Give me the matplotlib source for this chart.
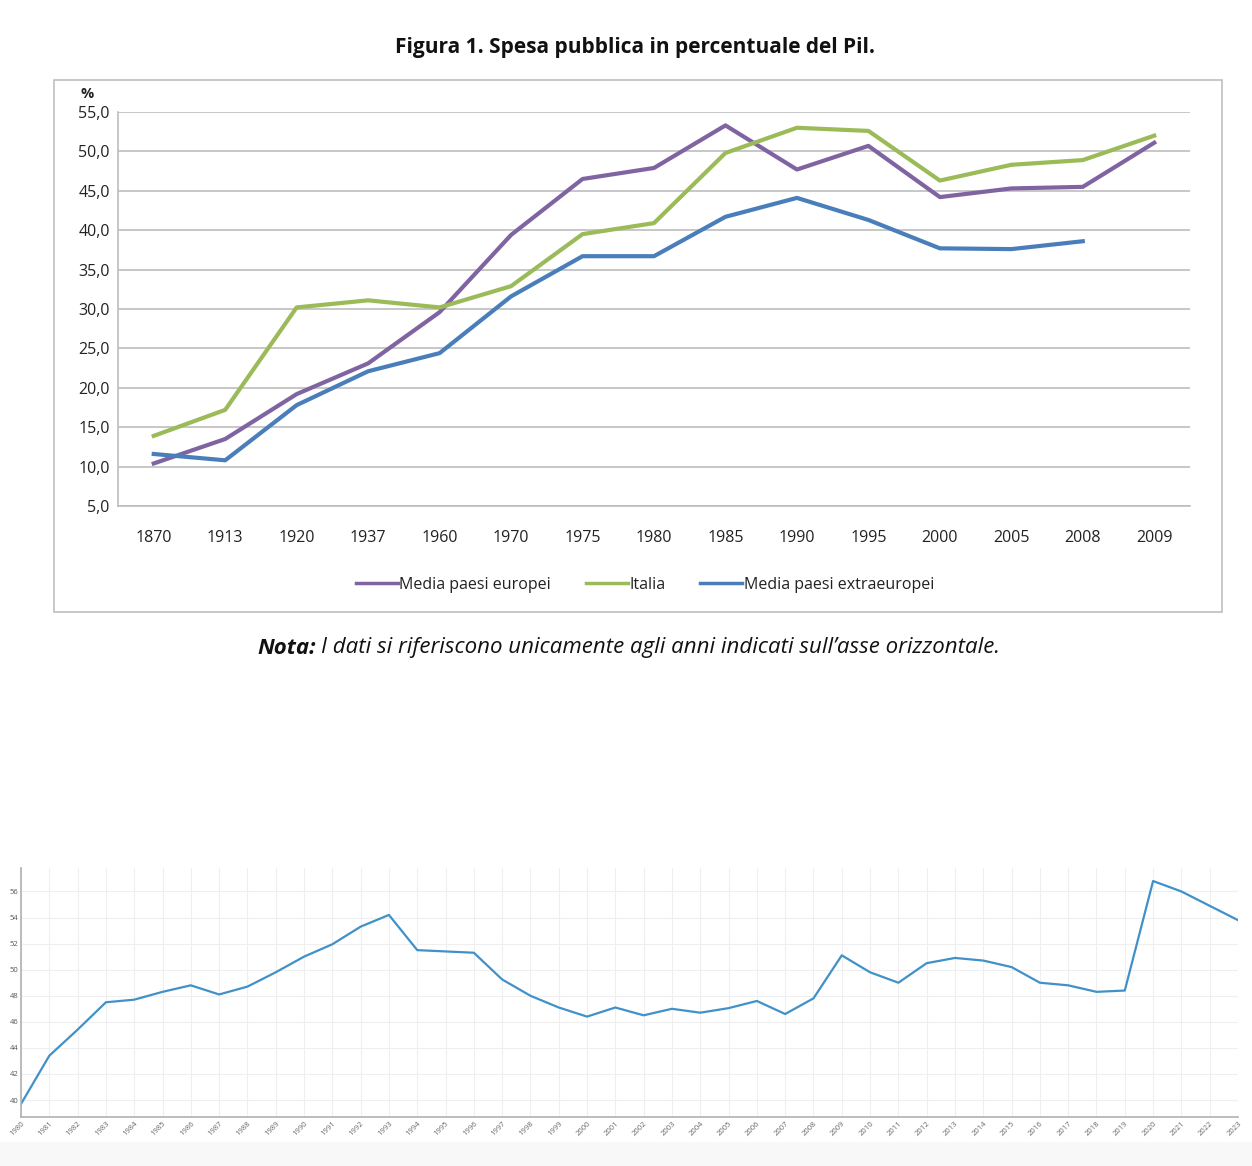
import matplotlib.pyplot as plt
from matplotlib.patches import Rectangle
from matplotlib.lines import Line2D

# --- top chart: Figura 1 ---
anni = ["1870", "1913", "1920", "1937", "1960", "1970", "1975", "1980",
        "1985", "1990", "1995", "2000", "2005", "2008", "2009"]
europei = [10.4, 13.5, 19.2, 23.1, 29.6, 39.4, 46.5, 47.9,
           53.3, 47.7, 50.7, 44.2, 45.3, 45.5, 51.1]
italia = [13.9, 17.2, 30.2, 31.1, 30.2, 32.9, 39.5, 40.9,
          49.8, 53.0, 52.6, 46.3, 48.3, 48.9, 52.0]
extraeuropei = [11.6, 10.8, 17.8, 22.1, 24.4, 31.6, 36.7, 36.7,
                41.7, 44.1, 41.3, 37.7, 37.6, 38.6]
yticks_top = [5, 10, 15, 20, 25, 30, 35, 40, 45, 50, 55]

# --- bottom chart: yearly series 1980-2023 ---
years = list(range(1980, 2024))
spesa = [39.7, 43.4, 45.4, 47.5, 47.7, 48.3, 48.8, 48.1, 48.7, 49.8,
         51.0, 51.95, 53.3, 54.2, 51.5, 51.4, 51.3, 49.25, 48.0, 47.1,
         46.4, 47.1, 46.5, 47.0, 46.7, 47.05, 47.6, 46.6, 47.8, 51.1,
         49.8, 49.0, 50.5, 50.9, 50.7, 50.2, 49.0, 48.8, 48.3, 48.4,
         56.8, 56.0, 54.9, 53.8]
yticks_bot = [40, 42, 44, 46, 48, 50, 52, 54, 56]

W, H = 1252, 1166
fig = plt.figure(figsize=(W / 100, H / 100), dpi=100)
plt.rcParams['font.family'] = ['Open Sans', 'DejaVu Sans']

def fx(px):
    return px / W

def fy(py):
    return 1 - py / H

# outer frame of the excel chart
fig.patches.append(Rectangle((fx(54), fy(612)), fx(1222 - 54), (612 - 80) / H,
                             transform=fig.transFigure, fill=False,
                             edgecolor="#bfbfbf", linewidth=1.2))
# light strip at the very bottom
fig.patches.append(Rectangle((0, 0), 1, (H - 1142) / H, transform=fig.transFigure,
                             facecolor="#f8f8f8", edgecolor="none"))

fig.text(0.507, fy(47), "Figura 1. Spesa pubblica in percentuale del Pil.",
         ha="center", va="center", fontsize=15, fontweight="bold", color="#111111")

ax = fig.add_axes([fx(118), fy(506), fx(1190 - 118), (506 - 112) / H])
x = list(range(len(anni)))
c_eu, c_it, c_ex = "#8064A2", "#9BBB59", "#4A7EBB"
ax.plot(x, europei, color=c_eu, lw=3, solid_joinstyle="round")
ax.plot(x, italia, color=c_it, lw=3, solid_joinstyle="round")
ax.plot(x[:len(extraeuropei)], extraeuropei, color=c_ex, lw=3, solid_joinstyle="round")
ax.set_xlim(-0.5, len(anni) - 0.5)
ax.set_ylim(5, 55)
ax.set_yticks(yticks_top)
ax.set_yticklabels([f"{v:.1f}".replace(".", ",") for v in yticks_top],
                   fontsize=11.5, color="#222222")
ax.set_xticks(x)
ax.set_xticklabels(anni, fontsize=11.5, color="#222222")
ax.tick_params(axis="both", length=0)
ax.tick_params(axis="x", pad=17)
ax.tick_params(axis="y", pad=6)
ax.yaxis.grid(True, color="#bdbdbd", lw=1.2)
ax.set_axisbelow(True)
for s in ["top", "right"]:
    ax.spines[s].set_visible(False)
ax.spines["left"].set_color("#bdbdbd")
ax.spines["bottom"].set_color("#bdbdbd")
ax.spines["left"].set_linewidth(1.2)
ax.spines["bottom"].set_linewidth(1.2)
fig.text(fx(87), fy(94), "%", ha="center", va="center", fontsize=10.5,
         fontweight="bold", color="#222222")

handles = [Line2D([], [], color=c, lw=2.5) for c in (c_eu, c_it, c_ex)]
fig.legend(handles, ["Media paesi europei", "Italia", "Media paesi extraeuropei"],
           loc="center", bbox_to_anchor=(fx(645), fy(585)), ncol=3, frameon=False,
           fontsize=11.5, handlelength=2.6, handletextpad=0.1, columnspacing=2.2,
           labelcolor="#222222")

# note under the chart: bold "Nota:" followed by italic text
nota = fig.text(fx(257), fy(648), "Nota:", ha="left", va="center", fontsize=16,
                style="italic", fontweight="bold", color="#111111")
fig.canvas.draw()
bb = nota.get_window_extent()
fig.text(bb.x1 / W + fx(5), fy(648),
         "I dati si riferiscono unicamente agli anni indicati sull’asse orizzontale.",
         ha="left", va="center", fontsize=16, style="italic", color="#111111")

# --- bottom chart ---
ax2 = fig.add_axes([fx(21), fy(1117), fx(1238 - 21), (1117 - 868) / H])
ax2.plot(years, spesa, color="#4191c9", lw=1.6)
ax2.set_xlim(1980, 2023)
ax2.set_ylim(38.7, 57.8)
ax2.set_yticks(yticks_bot)
ax2.set_yticklabels([str(v) for v in yticks_bot], fontsize=5.5, color="#555555")
ax2.set_xticks(years)
ax2.set_xticklabels([str(y) for y in years], fontsize=5.5, color="#666666",
                    rotation=45, ha="right", va="top", rotation_mode="anchor")
ax2.tick_params(axis="both", length=0, pad=2)
ax2.grid(True, color="#efefef", lw=0.8)
ax2.set_axisbelow(True)
for s in ["top", "right"]:
    ax2.spines[s].set_visible(False)
ax2.spines["left"].set_color("#b0b0b0")
ax2.spines["bottom"].set_color("#b0b0b0")
ax2.spines["left"].set_linewidth(1.2)
ax2.spines["bottom"].set_linewidth(1.2)

fig.savefig("out.png", dpi=100, facecolor="white")
